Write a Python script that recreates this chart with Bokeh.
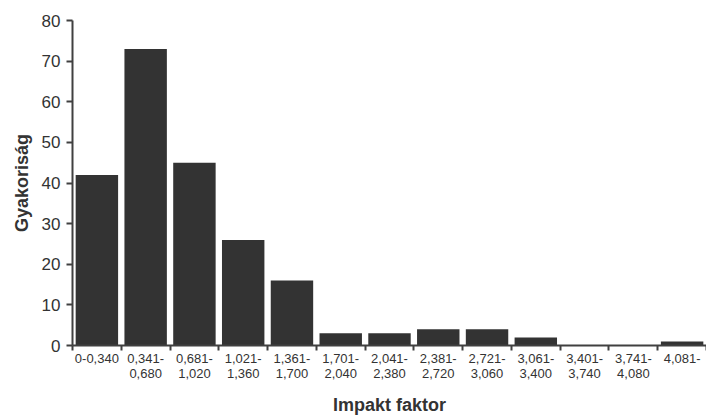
from bokeh.plotting import figure
from bokeh.models import FixedTicker, LinearAxis, Range1d
from bokeh.embed import file_html
from bokeh.resources import INLINE

categories = ["0-0,340", "0,341-\n0,680", "0,681-\n1,020", "1,021-\n1,360", "1,361-\n1,700",
              "1,701-\n2,040", "2,041-\n2,380", "2,381-\n2,720", "2,721-\n3,060", "3,061-\n3,400",
              "3,401-\n3,740", "3,741-\n4,080", "4,081-"]
counts = [42, 73, 45, 26, 16, 3, 3, 4, 4, 2, 0, 0, 1]
y_ticks = [0, 10, 20, 30, 40, 50, 60, 70, 80]

n = len(categories)
centers = [i + 0.5 for i in range(n)]
FONT = "Liberation Sans"
AX = "#404040"

p = figure(width=706, height=417, output_backend="svg", toolbar_location=None,
           x_range=Range1d(0, n), y_range=Range1d(0, 80),
           min_border_left=72, min_border_right=0, min_border_top=20, min_border_bottom=0,
           x_axis_location=None)
p.outline_line_color = None
p.grid.grid_line_color = None
p.background_fill_color = "white"

p.vbar(x=centers, top=counts, width=0.87, fill_color="#333333", line_color=None)

# y axis
ya = p.yaxis[0]
ya.ticker = FixedTicker(ticks=y_ticks)
ya.axis_line_color = AX
ya.axis_line_width = 2
ya.major_tick_line_color = AX
ya.major_tick_line_width = 2
ya.major_tick_in = 0
ya.major_tick_out = 6
ya.minor_tick_line_color = None
ya.major_label_text_font = FONT
ya.major_label_text_font_size = "17px"
ya.major_label_text_color = "#333333"
ya.major_label_standoff = 6
ya.axis_label = "Gyakoriság"
ya.axis_label_text_font = FONT
ya.axis_label_text_font_style = "bold"
ya.axis_label_text_font_size = "18px"
ya.axis_label_text_color = "#333333"
ya.axis_label_standoff = 7

# x axis with tick marks at category boundaries
bounds = list(range(n + 1))
xa1 = LinearAxis(ticker=FixedTicker(ticks=bounds))
xa1.major_label_overrides = {b: "" for b in bounds}
xa1.axis_line_color = AX
xa1.axis_line_width = 2
xa1.major_tick_line_color = AX
xa1.major_tick_line_width = 2
xa1.major_tick_in = 0
xa1.major_tick_out = 5
xa1.minor_tick_line_color = None
xa1.major_label_text_font_size = "1px"
xa1.major_label_standoff = 0
p.add_layout(xa1, "below")

# x axis with category labels at centers
xa2 = LinearAxis(ticker=FixedTicker(ticks=centers))
xa2.major_label_overrides = {c: lab for c, lab in zip(centers, categories)}
xa2.axis_line_color = None
xa2.major_tick_line_color = None
xa2.minor_tick_line_color = None
xa2.major_tick_out = 0
xa2.major_tick_in = 0
xa2.major_label_text_font = FONT
xa2.major_label_text_font_size = "13px"
xa2.major_label_text_line_height = 1.0
xa2.major_label_text_color = "#333333"
xa2.major_label_standoff = 0
xa2.axis_label = "Impakt faktor"
xa2.axis_label_text_font = FONT
xa2.axis_label_text_font_style = "bold"
xa2.axis_label_text_font_size = "18px"
xa2.axis_label_text_color = "#333333"
xa2.axis_label_standoff = 11
p.add_layout(xa2, "below")

open("out.html", "w").write(file_html(p, INLINE))
